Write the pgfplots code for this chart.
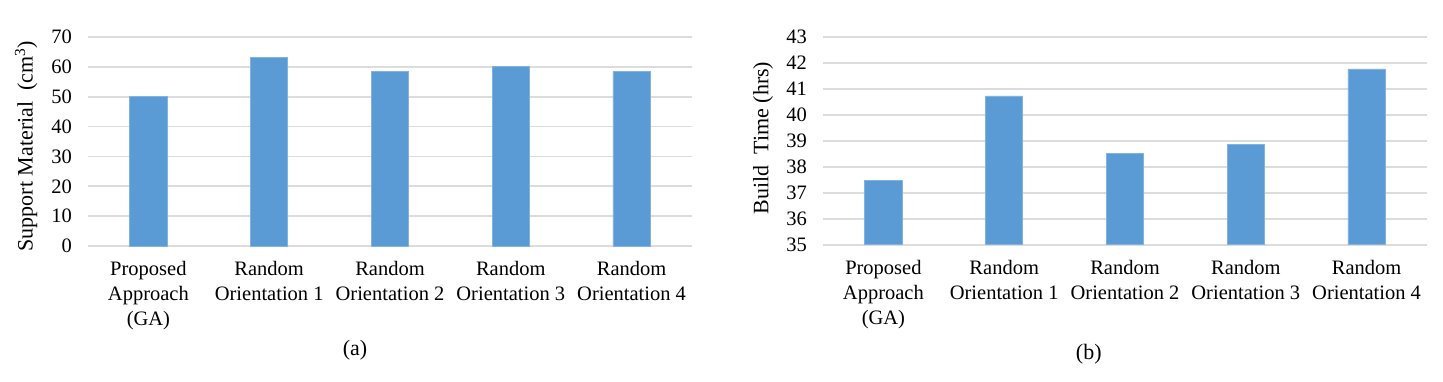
\documentclass[border=0pt]{standalone}
\usepackage{fontspec}
\setmainfont{Liberation Serif}
\usepackage{pgfplots}
\pgfplotsset{compat=1.18}
\definecolor{barblue}{RGB}{91,155,213}
\definecolor{baredge}{RGB}{130,178,225}
\definecolor{gridgray}{RGB}{220,220,220}
\pgfplotsset{
  mybars/.style={
    scale only axis,
    width=604pt,
    clip mode=individual,
    ybar, bar width=37.3pt, bar shift=0pt,
    xmin=-0.5, xmax=4.5,
    xtick={0,1,2,3,4},
    xticklabels={{Proposed\\Approach\\(GA)},{Random\\Orientation 1},{Random\\Orientation 2},{Random\\Orientation 3},{Random\\Orientation 4}},
    axis line style={draw=none},
    major tick length=0pt,
    ymajorgrids,
    major grid style={gridgray, line width=1.6pt},
    /pgf/number format/assume math mode=true,
    yticklabel style={font=\fontsize{20.5}{24}\selectfont, anchor=east, inner sep=0pt, xshift=-16pt},
    xticklabel style={font=\fontsize{20.5}{25}\selectfont, align=center, anchor=north, inner sep=0pt, yshift=-15pt},
    every axis y label/.style={rotate=90, anchor=center, font=\fontsize{22}{26}\selectfont},
  }
}
\begin{document}
\begin{tikzpicture}
\useasboundingbox (0,0) rectangle (1443pt,381pt);
\begin{axis}[mybars,
  at={(88pt,135pt)}, anchor=south west,
  height=209pt,
  ymin=0, ymax=70, ytick={0,10,20,30,40,50,60,70},
  ylabel={Support Material\ \ (cm\textsuperscript{3})},
  y label style={at={(axis description cs:-0.1026,0.478)}},
]
\addplot[fill=barblue, draw=baredge, line width=0.8pt] coordinates {(0,50.1) (1,63.2) (2,58.4) (3,60.1) (4,58.4)};
\node[font=\fontsize{22}{26}\selectfont] at (axis description cs:0.442,-0.5) {(a)};
\end{axis}
\begin{axis}[mybars,
  at={(823pt,136.3pt)}, anchor=south west,
  height=208pt,
  ymin=35, ymax=43, ytick={35,36,37,38,39,40,41,42,43},
  ylabel={Build\ \ Time (hrs)},
  y label style={at={(axis description cs:-0.0993,0.513)}},
]
\addplot[fill=barblue, draw=baredge, line width=0.8pt] coordinates {(0,37.46) (1,40.72) (2,38.51) (3,38.86) (4,41.76)};
\node[font=\fontsize{22}{26}\selectfont] at (axis description cs:0.44,-0.525) {(b)};
\end{axis}
\end{tikzpicture}
\end{document}
